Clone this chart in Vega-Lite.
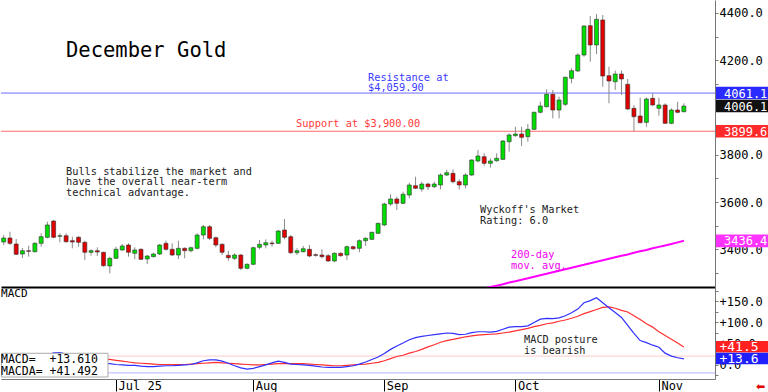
{
"$schema":"https://vega.github.io/schema/vega-lite/v6.json",
"padding":0,
"spacing":0,
"background":"white",
"config":{"view":{"stroke":null},"axis":{"grid":false,"title":null}},
"data":{"values":[
{"i":0,"o":3431.4,"h":3461.0,"l":3418.8,"c":3448.4,"md":8,"ma":20},
{"i":1,"o":3448.4,"h":3475.0,"l":3418.8,"c":3426.0,"md":7,"ma":19},
{"i":2,"o":3423.0,"h":3444.1,"l":3376.5,"c":3379.5,"md":5,"ma":18},
{"i":3,"o":3380.7,"h":3406.1,"l":3364.0,"c":3394.7,"md":3,"ma":16},
{"i":4,"o":3394.7,"h":3415.8,"l":3369.4,"c":3392.1,"md":2,"ma":15},
{"i":5,"o":3390.4,"h":3430.2,"l":3387.9,"c":3426.0,"md":4,"ma":14},
{"i":6,"o":3426.0,"h":3468.3,"l":3411.6,"c":3453.9,"md":12,"ma":14},
{"i":7,"o":3451.4,"h":3517.3,"l":3447.1,"c":3503.4,"md":22,"ma":15},
{"i":8,"o":3520.3,"h":3524.5,"l":3447.1,"c":3451.4,"md":28,"ma":17},
{"i":9,"o":3455.6,"h":3468.3,"l":3430.2,"c":3458.1,"md":28.5,"ma":18},
{"i":10,"o":3458.1,"h":3468.3,"l":3428.5,"c":3432.7,"md":25,"ma":19},
{"i":11,"o":3437.0,"h":3453.9,"l":3404.8,"c":3431.5,"md":20,"ma":19},
{"i":12,"o":3451.4,"h":3456.8,"l":3411.6,"c":3430.2,"md":15,"ma":18},
{"i":13,"o":3430.2,"h":3437.0,"l":3355.4,"c":3387.9,"md":10,"ma":17},
{"i":14,"o":3387.9,"h":3400.6,"l":3373.6,"c":3394.7,"md":7,"ma":16},
{"i":15,"o":3394.7,"h":3409.1,"l":3372.3,"c":3389.2,"md":5,"ma":14},
{"i":16,"o":3387.9,"h":3390.4,"l":3327.1,"c":3331.3,"md":3,"ma":13},
{"i":17,"o":3330.0,"h":3369.4,"l":3299.2,"c":3362.6,"md":2,"ma":12},
{"i":18,"o":3362.6,"h":3411.6,"l":3359.6,"c":3400.6,"md":0,"ma":10},
{"i":19,"o":3397.7,"h":3423.0,"l":3394.7,"c":3414.6,"md":-1,"ma":8},
{"i":20,"o":3418.8,"h":3426.0,"l":3369.4,"c":3387.9,"md":-2,"ma":6},
{"i":21,"o":3383.7,"h":3409.1,"l":3358.3,"c":3397.7,"md":-2,"ma":4},
{"i":22,"o":3400.6,"h":3404.8,"l":3355.4,"c":3358.3,"md":-4,"ma":3},
{"i":23,"o":3359.6,"h":3376.5,"l":3338.5,"c":3372.3,"md":-5,"ma":2},
{"i":24,"o":3369.4,"h":3386.3,"l":3366.8,"c":3380.7,"md":-5,"ma":1},
{"i":25,"o":3380.7,"h":3423.0,"l":3376.5,"c":3418.8,"md":-4,"ma":0},
{"i":26,"o":3426.0,"h":3437.0,"l":3394.7,"c":3400.6,"md":-3,"ma":0},
{"i":27,"o":3400.6,"h":3426.0,"l":3372.3,"c":3376.5,"md":-3,"ma":0},
{"i":28,"o":3376.5,"h":3437.0,"l":3359.6,"c":3404.8,"md":-2,"ma":0},
{"i":29,"o":3404.8,"h":3409.1,"l":3362.6,"c":3394.7,"md":-1,"ma":0},
{"i":30,"o":3394.7,"h":3411.6,"l":3387.9,"c":3407.4,"md":0,"ma":1},
{"i":31,"o":3404.8,"h":3468.3,"l":3400.6,"c":3461.0,"md":4,"ma":2},
{"i":32,"o":3461.0,"h":3503.3,"l":3442.8,"c":3496.1,"md":9,"ma":3},
{"i":33,"o":3496.1,"h":3503.3,"l":3439.9,"c":3447.1,"md":11,"ma":4},
{"i":34,"o":3449.6,"h":3453.9,"l":3409.1,"c":3418.8,"md":11,"ma":5},
{"i":35,"o":3421.7,"h":3426.0,"l":3376.5,"c":3387.9,"md":8,"ma":4},
{"i":36,"o":3375.2,"h":3394.7,"l":3352.4,"c":3365.1,"md":3,"ma":3},
{"i":37,"o":3362.6,"h":3383.7,"l":3355.4,"c":3376.5,"md":-3,"ma":2},
{"i":38,"o":3376.5,"h":3380.7,"l":3313.1,"c":3320.3,"md":-8,"ma":1},
{"i":39,"o":3320.3,"h":3341.4,"l":3316.1,"c":3337.2,"md":-11,"ma":0},
{"i":40,"o":3337.2,"h":3411.6,"l":3334.3,"c":3407.4,"md":-9,"ma":-1},
{"i":41,"o":3409.1,"h":3439.9,"l":3400.6,"c":3421.7,"md":-5,"ma":-1},
{"i":42,"o":3418.8,"h":3442.8,"l":3404.8,"c":3428.5,"md":-1,"ma":0},
{"i":43,"o":3427.3,"h":3437.0,"l":3411.6,"c":3424.3,"md":4,"ma":1},
{"i":44,"o":3426.0,"h":3482.2,"l":3423.0,"c":3478.0,"md":8,"ma":2},
{"i":45,"o":3482.2,"h":3528.7,"l":3442.8,"c":3451.4,"md":5,"ma":2},
{"i":46,"o":3453.9,"h":3461.0,"l":3380.7,"c":3386.3,"md":1,"ma":2},
{"i":47,"o":3386.3,"h":3404.8,"l":3376.5,"c":3394.7,"md":0,"ma":2},
{"i":48,"o":3390.4,"h":3414.6,"l":3387.9,"c":3403.1,"md":-1,"ma":2},
{"i":49,"o":3400.6,"h":3418.8,"l":3366.8,"c":3372.3,"md":-2,"ma":1},
{"i":50,"o":3377.8,"h":3383.7,"l":3369.4,"c":3375.2,"md":-4,"ma":0},
{"i":51,"o":3376.5,"h":3400.6,"l":3362.6,"c":3369.4,"md":-6,"ma":-1},
{"i":52,"o":3373.6,"h":3380.7,"l":3348.2,"c":3351.2,"md":-7,"ma":-2},
{"i":53,"o":3351.2,"h":3387.9,"l":3345.7,"c":3383.7,"md":-7,"ma":-3},
{"i":54,"o":3383.7,"h":3387.9,"l":3369.4,"c":3373.6,"md":-7,"ma":-3},
{"i":55,"o":3376.5,"h":3415.8,"l":3355.4,"c":3411.6,"md":-5,"ma":-2},
{"i":56,"o":3411.6,"h":3415.8,"l":3397.7,"c":3403.1,"md":-3,"ma":-1},
{"i":57,"o":3404.8,"h":3442.8,"l":3387.9,"c":3437.0,"md":1,"ma":0},
{"i":58,"o":3437.0,"h":3451.4,"l":3414.6,"c":3447.1,"md":6,"ma":1},
{"i":59,"o":3442.8,"h":3475.0,"l":3439.9,"c":3472.5,"md":12,"ma":3},
{"i":60,"o":3468.3,"h":3513.1,"l":3465.3,"c":3510.5,"md":18,"ma":5},
{"i":61,"o":3503.3,"h":3597.6,"l":3499.1,"c":3592.1,"md":26,"ma":9},
{"i":62,"o":3592.1,"h":3633.1,"l":3584.9,"c":3613.3,"md":36,"ma":14},
{"i":63,"o":3613.3,"h":3623.0,"l":3566.7,"c":3595.1,"md":44,"ma":19},
{"i":64,"o":3595.1,"h":3644.1,"l":3592.1,"c":3633.1,"md":51,"ma":22},
{"i":65,"o":3630.1,"h":3682.1,"l":3616.2,"c":3672.4,"md":59,"ma":27},
{"i":66,"o":3669.5,"h":3707.5,"l":3655.5,"c":3658.5,"md":64,"ma":31},
{"i":67,"o":3655.5,"h":3686.4,"l":3644.1,"c":3676.6,"md":67,"ma":36},
{"i":68,"o":3676.6,"h":3682.1,"l":3651.3,"c":3665.2,"md":69,"ma":42},
{"i":69,"o":3665.2,"h":3686.4,"l":3658.5,"c":3676.6,"md":71,"ma":47},
{"i":70,"o":3672.4,"h":3721.9,"l":3654.2,"c":3714.7,"md":73,"ma":53},
{"i":71,"o":3714.7,"h":3735.8,"l":3710.4,"c":3724.4,"md":75,"ma":57},
{"i":72,"o":3721.9,"h":3738.8,"l":3679.6,"c":3686.4,"md":74,"ma":60},
{"i":73,"o":3686.4,"h":3696.5,"l":3654.2,"c":3672.4,"md":71,"ma":63},
{"i":74,"o":3672.4,"h":3721.9,"l":3658.5,"c":3714.7,"md":72,"ma":66,"m":3216},
{"i":75,"o":3714.7,"h":3781.0,"l":3710.4,"c":3778.1,"md":76,"ma":68,"m":3222},
{"i":76,"o":3773.9,"h":3820.3,"l":3768.4,"c":3795.0,"md":78,"ma":70,"m":3228},
{"i":77,"o":3792.0,"h":3806.4,"l":3754.0,"c":3764.1,"md":78,"ma":71,"m":3235},
{"i":78,"o":3764.1,"h":3785.3,"l":3745.5,"c":3773.9,"md":77,"ma":72,"m":3241},
{"i":79,"o":3775.1,"h":3806.4,"l":3770.9,"c":3785.3,"md":79,"ma":73,"m":3247},
{"i":80,"o":3781.0,"h":3862.6,"l":3778.1,"c":3858.4,"md":84,"ma":75,"m":3253},
{"i":81,"o":3855.4,"h":3890.9,"l":3813.2,"c":3883.8,"md":89,"ma":77,"m":3260},
{"i":82,"o":3880.8,"h":3918.8,"l":3876.6,"c":3888.0,"md":90,"ma":80,"m":3266},
{"i":83,"o":3888.0,"h":3918.8,"l":3837.3,"c":3874.0,"md":90,"ma":83,"m":3272},
{"i":84,"o":3876.6,"h":3930.3,"l":3855.4,"c":3907.8,"md":92,"ma":86,"m":3278},
{"i":85,"o":3907.8,"h":3982.2,"l":3904.9,"c":3979.7,"md":100,"ma":90,"m":3285},
{"i":86,"o":3979.7,"h":4024.5,"l":3975.5,"c":4006.3,"md":108,"ma":93,"m":3291},
{"i":87,"o":4003.4,"h":4076.9,"l":4000.8,"c":4055.8,"md":110,"ma":97,"m":3297},
{"i":88,"o":4055.8,"h":4074.0,"l":3954.3,"c":3989.4,"md":109,"ma":99,"m":3304},
{"i":89,"o":3989.4,"h":4045.6,"l":3954.3,"c":4031.7,"md":111,"ma":103,"m":3310},
{"i":90,"o":4013.5,"h":4130.2,"l":4006.3,"c":4127.7,"md":116,"ma":106,"m":3316},
{"i":91,"o":4123.4,"h":4165.7,"l":4102.3,"c":4155.5,"md":123,"ma":110,"m":3323},
{"i":92,"o":4154.3,"h":4229.1,"l":4151.3,"c":4221.9,"md":132,"ma":115,"m":3329},
{"i":93,"o":4221.9,"h":4348.7,"l":4214.7,"c":4344.5,"md":147,"ma":121,"m":3335},
{"i":94,"o":4345.8,"h":4386.8,"l":4193.6,"c":4264.2,"md":152,"ma":126,"m":3342},
{"i":95,"o":4264.2,"h":4395.2,"l":4226.1,"c":4372.8,"md":159,"ma":131,"m":3348},
{"i":96,"o":4369.9,"h":4391.0,"l":4087.9,"c":4133.1,"md":147,"ma":136,"m":3354},
{"i":97,"o":4134.4,"h":4172.5,"l":4017.7,"c":4112.0,"md":135,"ma":137,"m":3361},
{"i":98,"o":4109.1,"h":4156.4,"l":4074.0,"c":4141.6,"md":124,"ma":134,"m":3367},
{"i":99,"o":4141.6,"h":4156.4,"l":4052.8,"c":4120.5,"md":112,"ma":129,"m":3373},
{"i":100,"o":4098.1,"h":4120.5,"l":3989.4,"c":3993.7,"md":93,"ma":125,"m":3379},
{"i":101,"o":3996.6,"h":4010.6,"l":3899.6,"c":3961.1,"md":74,"ma":116,"m":3386},
{"i":102,"o":3964.1,"h":4041.4,"l":3933.2,"c":3935.7,"md":57,"ma":107,"m":3392},
{"i":103,"o":3937.4,"h":4041.4,"l":3918.8,"c":4035.9,"md":52,"ma":97,"m":3398},
{"i":104,"o":4038.9,"h":4061.1,"l":4007.6,"c":4010.6,"md":46,"ma":89,"m":3405},
{"i":105,"o":3996.6,"h":4041.4,"l":3965.3,"c":4010.6,"md":41,"ma":78,"m":3411},
{"i":106,"o":4010.6,"h":4017.7,"l":3930.3,"c":3933.2,"md":27,"ma":69,"m":3417},
{"i":107,"o":3933.2,"h":3996.6,"l":3929.0,"c":3989.4,"md":20,"ma":60,"m":3423},
{"i":108,"o":3989.4,"h":4024.5,"l":3975.5,"c":3979.7,"md":16,"ma":51,"m":3430},
{"i":109,"o":3982.2,"h":4017.7,"l":3979.7,"c":4006.1,"md":13.61,"ma":41.49,"m":3436.4}
]},
"vconcat":[
{"width":714,"height":287,
"resolve":{"scale":{"color":"independent"},"axis":{"x":"independent","y":"independent"}},
"layer":[
{"data":{"values":[{"p":4061.1,"k":"r"},{"p":3899.6,"k":"s"}]},
 "mark":{"type":"rule","strokeWidth":1},
 "encoding":{"y":{"field":"p","type":"quantitative","scale":{"domain":[3241.3,4454.4],"nice":false,"zero":false},"axis":null},
  "color":{"field":"k","type":"nominal","scale":{"domain":["r","s"],"range":["#6b6bff","#ff6b6b"]},"legend":null}}},
{"mark":{"type":"rule","color":"#8a8a8a","strokeWidth":1},
 "encoding":{"x":{"field":"i","type":"quantitative","scale":{"domain":[-0.433,113.99],"nice":false,"zero":false,"padding":0},"axis":null},
  "y":{"field":"h","type":"quantitative","scale":{"domain":[3241.3,4454.4],"nice":false,"zero":false},"axis":null},
  "y2":{"field":"l"}}},
{"mark":{"type":"bar","size":4,"stroke":"#303030","strokeWidth":0.6},
 "encoding":{"x":{"field":"i","type":"quantitative","scale":{"domain":[-0.433,113.99],"nice":false,"zero":false,"padding":0},
   "axis":{"orient":"bottom","labels":false,"ticks":false,"domainColor":"#000000","domainWidth":2,"title":null,"grid":false}},
  "y":{"field":"o","type":"quantitative","scale":{"domain":[3241.3,4454.4],"nice":false,"zero":false},
   "axis":{"orient":"right","values":[3300,3400,3500,3600,3700,3800,3900,4000,4100,4200,4300,4400],
    "labelExpr":"datum.value % 200 == 0 ? '\u00a0' + format(datum.value, '.1f') : ''",
    "tickSize":3,"tickColor":"#777777","domainColor":"#777777","labelPadding":1,
    "labelFont":"DejaVu Sans Mono","labelFontSize":12,"labelColor":"#000000","title":null,"grid":false}},
  "y2":{"field":"c"},
  "color":{"condition":{"test":"datum.c >= datum.o","value":"#00dd00"},"value":"#e00000"}}},
{"mark":{"type":"line","color":"#ff00ff","strokeWidth":2,"clip":true},
 "encoding":{"x":{"field":"i","type":"quantitative","scale":{"domain":[-0.433,113.99],"nice":false,"zero":false,"padding":0},"axis":null},
  "y":{"field":"m","type":"quantitative","scale":{"domain":[3241.3,4454.4],"nice":false,"zero":false},"axis":null}}},
{"data":{"values":[{}]},
 "mark":{"type":"text","font":"DejaVu Sans Mono","fontSize":20.5,"align":"left","baseline":"alphabetic","color":"#000000"},
 "encoding":{"x":{"datum":9.98,"type":"quantitative","axis":null},"y":{"datum":4213.5,"type":"quantitative","axis":null},
  "text":{"value":"December Gold"}}},
{"data":{"values":[{}]},
 "mark":{"type":"text","font":"DejaVu Sans Mono","fontSize":10.3,"align":"left","baseline":"alphabetic","color":"#3a3aff","lineHeight":10},
 "encoding":{"x":{"datum":58.38,"type":"quantitative","axis":null},"y":{"datum":4112.0,"type":"quantitative","axis":null},
  "text":{"value":["Resistance at","$4,059.90"]}}},
{"data":{"values":[{}]},
 "mark":{"type":"text","font":"DejaVu Sans Mono","fontSize":10.3,"align":"left","baseline":"alphabetic","color":"#ff3b3b"},
 "encoding":{"x":{"datum":46.86,"type":"quantitative","axis":null},"y":{"datum":3915.5,"type":"quantitative","axis":null},
  "text":{"value":"Support at $3,900.00"}}},
{"data":{"values":[{}]},
 "mark":{"type":"text","font":"DejaVu Sans Mono","fontSize":10.3,"align":"left","baseline":"alphabetic","color":"#222222","lineHeight":10.5},
 "encoding":{"x":{"datum":9.98,"type":"quantitative","axis":null},"y":{"datum":3716.8,"type":"quantitative","axis":null},
  "text":{"value":["Bulls stabilize the market and","have the overall near-term","technical advantage."]}}},
{"data":{"values":[{}]},
 "mark":{"type":"text","font":"DejaVu Sans Mono","fontSize":10.3,"align":"left","baseline":"alphabetic","color":"#222222","lineHeight":10.5},
 "encoding":{"x":{"datum":76.33,"type":"quantitative","axis":null},"y":{"datum":3552.0,"type":"quantitative","axis":null},
  "text":{"value":["Wyckoff's Market","Rating: 6.0"]}}},
{"data":{"values":[{}]},
 "mark":{"type":"text","font":"DejaVu Sans Mono","fontSize":10.3,"align":"left","baseline":"alphabetic","color":"#ee00ee","lineHeight":11},
 "encoding":{"x":{"datum":81.3,"type":"quantitative","axis":null},"y":{"datum":3363.8,"type":"quantitative","axis":null},
  "text":{"value":["200-day","mov. avg."]}}},
{"data":{"values":[{"p":4061.1,"k":"res"},{"p":4006.1,"k":"last"},{"p":3899.6,"k":"sup"},{"p":3436.4,"k":"ma"}]},
 "mark":{"type":"rect","yOffset":-6.3,"y2Offset":6.3},
 "encoding":{"x":{"datum":114.15,"type":"quantitative","axis":null},"x2":{"datum":122.7},
  "y":{"field":"p","type":"quantitative","axis":null},"y2":{"field":"p"},
  "color":{"field":"k","type":"nominal","scale":{"domain":["res","last","sup","ma"],"range":["#2a2aff","#111111","#ff2a2a","#ff33ff"]},"legend":null}}},
{"data":{"values":[{"p":4061.1},{"p":4006.1},{"p":3899.6},{"p":3436.4}]},
 "mark":{"type":"text","font":"DejaVu Sans Mono","fontSize":12,"align":"left","baseline":"middle","color":"#ffffff","dy":0.5},
 "encoding":{"x":{"datum":115.43,"type":"quantitative","axis":null},
  "y":{"field":"p","type":"quantitative","axis":null},
  "text":{"field":"p","type":"quantitative","format":".1f"}}}
]},
{"width":714,"height":92,
"resolve":{"scale":{"color":"independent"},"axis":{"x":"independent","y":"independent"}},
"layer":[
{"data":{"values":[{"v":20,"k":"hi"},{"v":-20,"k":"lo"}]},
 "mark":{"type":"rule","strokeWidth":1},
 "encoding":{"y":{"field":"v","type":"quantitative","scale":{"domain":[-34.5,184.5],"nice":false,"zero":false},"axis":null},
  "color":{"field":"k","type":"nominal","scale":{"domain":["hi","lo"],"range":["#ffcccc","#b4b4ff"]},"legend":null}}},
{"mark":{"type":"line","color":"#ff3030","strokeWidth":1.2},
 "encoding":{"x":{"field":"i","type":"quantitative","scale":{"domain":[-0.433,113.99],"nice":false,"zero":false,"padding":0},
   "axis":{"orient":"bottom","values":[18,40,61,82,105],
    "labelExpr":"datum.value == 18 ? 'Jul 25' : datum.value == 40 ? 'Aug' : datum.value == 61 ? 'Sep' : datum.value == 82 ? 'Oct' : 'Nov'",
    "tickSize":12,"tickColor":"#000000","domainColor":"#777777","labelAlign":"left","labelBaseline":"top","labelPadding":-11,"labelOffset":2,
    "labelFont":"DejaVu Sans Mono","labelFontSize":12,"labelColor":"#000000","title":null,"grid":false}},
  "y":{"field":"ma","type":"quantitative","scale":{"domain":[-34.5,184.5],"nice":false,"zero":false},
   "axis":{"orient":"right","values":[-25,0,25,50,75,100,125,150,175],
    "labelExpr":"datum.value == 0 ? '\u00a00.0' : (datum.value > 0 && datum.value % 50 == 0 ? format(datum.value, '+.1f') : '')",
    "tickSize":3,"tickColor":"#777777","domainColor":"#777777","labelPadding":1,
    "labelFont":"DejaVu Sans Mono","labelFontSize":12,"labelColor":"#000000","title":null,"grid":false}}}},
{"mark":{"type":"line","color":"#3030ff","strokeWidth":1.2},
 "encoding":{"x":{"field":"i","type":"quantitative","scale":{"domain":[-0.433,113.99],"nice":false,"zero":false,"padding":0},"axis":null},
  "y":{"field":"md","type":"quantitative","scale":{"domain":[-34.5,184.5],"nice":false,"zero":false},"axis":null}}},
{"data":{"values":[{}]},
 "mark":{"type":"rect","fill":"#ffffff","stroke":"#aaaaaa","strokeWidth":1},
 "encoding":{"x":{"datum":-0.35,"type":"quantitative","axis":null},"x2":{"datum":16.71},
  "y":{"datum":26.7,"type":"quantitative","axis":null},"y2":{"datum":-29.8}}},
{"data":{"values":[{}]},
 "mark":{"type":"text","font":"DejaVu Sans Mono","fontSize":11.5,"align":"left","baseline":"alphabetic","color":"#000000","lineHeight":12},
 "encoding":{"x":{"datum":-0.43,"type":"quantitative","axis":null},"y":{"datum":2.4,"type":"quantitative","axis":null},
  "text":{"value":["MACD=\u00a0\u00a0+13.610","MACDA=\u00a0+41.492"]}}},
{"data":{"values":[{}]},
 "mark":{"type":"text","font":"DejaVu Sans Mono","fontSize":11,"align":"left","baseline":"alphabetic","color":"#000000"},
 "encoding":{"x":{"datum":-0.43,"type":"quantitative","axis":null},"y":{"datum":160.7,"type":"quantitative","axis":null},
  "text":{"value":"MACD"}}},
{"data":{"values":[{}]},
 "mark":{"type":"text","font":"DejaVu Sans Mono","fontSize":10.2,"align":"left","baseline":"alphabetic","color":"#222222","lineHeight":11},
 "encoding":{"x":{"datum":83.4,"type":"quantitative","axis":null},"y":{"datum":51.2,"type":"quantitative","axis":null},
  "text":{"value":["MACD posture","is bearish"]}}},
{"data":{"values":[{"v":41.49,"k":"a"},{"v":13.61,"k":"d"}]},
 "mark":{"type":"rect","yOffset":-6,"y2Offset":5.5},
 "encoding":{"x":{"datum":114.15,"type":"quantitative","axis":null},"x2":{"datum":122.7},
  "y":{"field":"v","type":"quantitative","axis":null},"y2":{"field":"v"},
  "color":{"field":"k","type":"nominal","scale":{"domain":["a","d"],"range":["#ff2020","#2020ff"]},"legend":null}}},
{"data":{"values":[{"v":41.49},{"v":13.61}]},
 "mark":{"type":"text","font":"DejaVu Sans Mono","fontSize":13,"align":"left","baseline":"middle","color":"#ffffff"},
 "encoding":{"x":{"datum":114.7,"type":"quantitative","axis":null},
  "y":{"field":"v","type":"quantitative","axis":null},
  "text":{"field":"v","type":"quantitative","format":"+.1f"}}},
{"data":{"values":[{}]},
 "mark":{"type":"text","font":"DejaVu Sans","fontSize":11,"align":"center","baseline":"middle","color":"#e00000"},
 "encoding":{"x":{"datum":121.3,"type":"quantitative","axis":null},"y":{"datum":-53.6,"type":"quantitative","axis":null},
  "text":{"value":"⬅"}}}
]}
]
}
